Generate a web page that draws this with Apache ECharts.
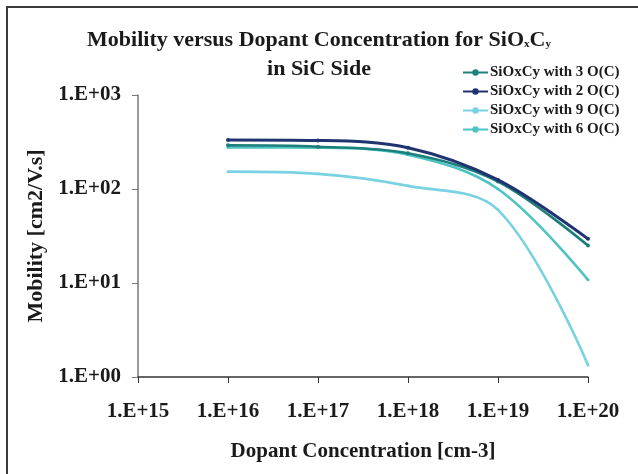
<!DOCTYPE html>
<html>
<head>
<meta charset="utf-8">
<script src="https://cdn.jsdelivr.net/npm/echarts@6/dist/echarts.min.js"></script>
<style>
html,body{margin:0;padding:0;background:#fff;}
#wrap{position:relative;width:638px;height:474px;overflow:hidden;}
#chart{width:638px;height:474px;}
#frame{position:absolute;left:6px;top:6px;width:700px;height:600px;border-top:2px solid #3a3a3a;border-left:2px solid #3a3a3a;pointer-events:none;}
</style>
</head>
<body>
<div id="wrap"><div id="chart"></div><div id="frame"></div></div>
<script>
// Dopant concentrations [cm-3]
const concentrations = [1e16, 1e17, 1e18, 1e19, 1e20];
// Mobility values [cm2/V.s]
const mob3 = [292, 282, 240, 120, 25];
const mob2 = [332, 328, 275, 125, 29.5];
const mob9 = [153, 145, 108, 60, 1.34];
const mob6 = [277, 275, 232, 100, 10.8];
const seriesNames = ['SiOxCy with 3 O(C)', 'SiOxCy with 2 O(C)', 'SiOxCy with 9 O(C)', 'SiOxCy with 6 O(C)'];
const seriesColors = ['#1c7f7b', '#1f3470', '#78d2e2', '#4dc3c3'];
const seriesData = [mob3, mob2, mob9, mob6];

const serif = '"Liberation Serif", "Times New Roman", serif';
const expLabel = v => {
  const e = Math.round(Math.log10(v));
  return '1.E+' + (e < 10 ? '0' + e : e);
};

const chart = echarts.init(document.getElementById('chart'));
chart.setOption({
  animation: false,
  backgroundColor: '#fff',
  title: {
    text: 'Mobility versus Dopant Concentration for SiO{s|x}C{s|y}\nin SiC Side',
    left: 'center',
    top: 21,
    textStyle: {
      fontFamily: serif, fontWeight: 'bold', fontSize: 22, color: '#1a1a1a', lineHeight: 29,
      rich: { s: { fontFamily: serif, fontWeight: 'bold', fontSize: 11, color: '#1a1a1a', padding: [8, 0, 0, 0] } }
    }
  },
  legend: {
    orient: 'vertical',
    left: 457,
    top: 60,
    itemWidth: 25,
    itemHeight: 8,
    itemGap: 4,
    textStyle: { fontFamily: serif, fontWeight: 'bold', fontSize: 15, color: '#1a1a1a', lineHeight: 15, padding: [0, 0, 0, -3] },
    data: seriesNames
  },
  grid: { left: 138, right: 50, top: 95, bottom: 97 },
  xAxis: {
    type: 'log', logBase: 10, min: 1e15, max: 1e20,
    name: 'Dopant Concentration [cm-3]', nameLocation: 'middle', nameGap: 64,
    nameTextStyle: { fontFamily: serif, fontWeight: 'bold', fontSize: 21, color: '#1a1a1a' },
    axisLine: { lineStyle: { color: '#333', width: 1.5 } },
    axisTick: { show: true, inside: false, length: 6, lineStyle: { color: '#333' } },
    axisLabel: { formatter: expLabel, margin: 24, fontFamily: serif, fontWeight: 'bold', fontSize: 21, color: '#1a1a1a' },
    splitLine: { show: false },
    minorTick: { show: false }
  },
  yAxis: {
    type: 'log', logBase: 10, min: 1, max: 1000,
    name: 'Mobility [cm2/V.s]', nameLocation: 'middle', nameGap: 89,
    nameTextStyle: { fontFamily: serif, fontWeight: 'bold', fontSize: 22, color: '#1a1a1a' },
    axisLine: { show: true, lineStyle: { color: '#777', width: 1.5 } },
    axisTick: { show: true, inside: false, length: 6, lineStyle: { color: '#777' } },
    axisLabel: { formatter: expLabel, margin: 17, fontFamily: serif, fontWeight: 'bold', fontSize: 21, color: '#1a1a1a' },
    splitLine: { show: false }
  },
  series: seriesData.map((vals, i) => ({
    name: seriesNames[i],
    type: 'line',
    smooth: 0.35,
    symbol: 'circle',
    symbolSize: i < 2 ? 4 : 3,
    color: seriesColors[i],
    lineStyle: { width: i === 1 ? 3 : 2.6, color: seriesColors[i] },
    itemStyle: { color: seriesColors[i] },
    z: [3, 4, 2, 2][i],
    data: concentrations.map((c, j) => [c, vals[j]])
  }))
});
</script>
</body>
</html>
